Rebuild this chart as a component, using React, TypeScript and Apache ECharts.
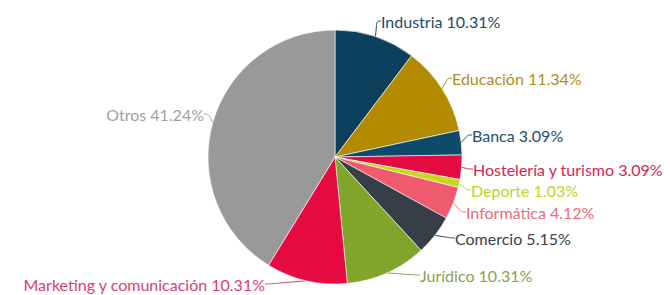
import React, { useEffect, useRef } from "react";
import * as echarts from "echarts";

const categories = [
  "Industria",
  "Educación",
  "Banca",
  "Hostelería y turismo",
  "Deporte",
  "Informática",
  "Comercio",
  "Jurídico",
  "Marketing y comunicación",
  "Otros",
];
const values = [10, 11, 3, 3, 1, 4, 5, 10, 10, 40];
const colors = [
  "#0b3f5c",
  "#b38b00",
  "#0e4b6b",
  "#e30b3f",
  "#c8d81e",
  "#ef5b6e",
  "#363e47",
  "#7fa52b",
  "#e50a3f",
  "#999999",
];
const labelColors = [
  "#1b4b67",
  "#b08c1a",
  "#24506b",
  "#d92650",
  "#c2d22a",
  "#ee6b7a",
  "#3a424a",
  "#8e9f4c",
  "#d84468",
  "#a0a0a0",
];

// label anchor positions (x, y, align)
const labelPos: [number, number, string][] = [
  [381, 21, "left"],
  [452, 78, "left"],
  [472, 135, "left"],
  [473, 169, "left"],
  [471, 190, "left"],
  [466, 212, "left"],
  [455, 238, "left"],
  [420, 275, "left"],
  [265, 284, "right"],
  [204, 114, "right"],
];

export default function App() {
  const ref = useRef<HTMLDivElement>(null);
  useEffect(() => {
    if (!ref.current) return;
    const chart = echarts.init(ref.current, undefined, { renderer: "svg" });
    const total = values.reduce((a, b) => a + b, 0);
    chart.setOption({
      animation: false,
      series: [
        {
          type: "pie",
          center: [335, 157],
          radius: [0, 127],
          startAngle: 90,
          clockwise: true,
          avoidLabelOverlap: false,
          itemStyle: { borderColor: "#ffffff", borderWidth: 0.6 },
          label: {
            show: true,
            position: "outside",
            fontFamily: "Lato",
            fontSize: 16,
            distanceToLabelLine: 2,
            formatter: (p: any) =>
              `${p.name} ${((p.value / total) * 100).toFixed(2)}%`,
          },
          labelLine: { show: true, length: 8, length2: 4, smooth: true, lineStyle: { width: 1 } },
          labelLayout: (p: any) => {
            const lp = labelPos[p.dataIndex];
            return { x: lp[0], y: lp[1], align: lp[2], verticalAlign: "middle" };
          },
          data: categories.map((name, i) => ({
            name,
            value: values[i],
            itemStyle: { color: colors[i] },
            label: { color: labelColors[i] },
            labelLine: { lineStyle: { color: labelColors[i] } },
          })),
        },
      ],
    });
    return () => chart.dispose();
  }, []);
  return (
    <div
      ref={ref}
      style={{ position: "absolute", left: 0, top: 0, width: 670, height: 295 }}
    />
  );
}
